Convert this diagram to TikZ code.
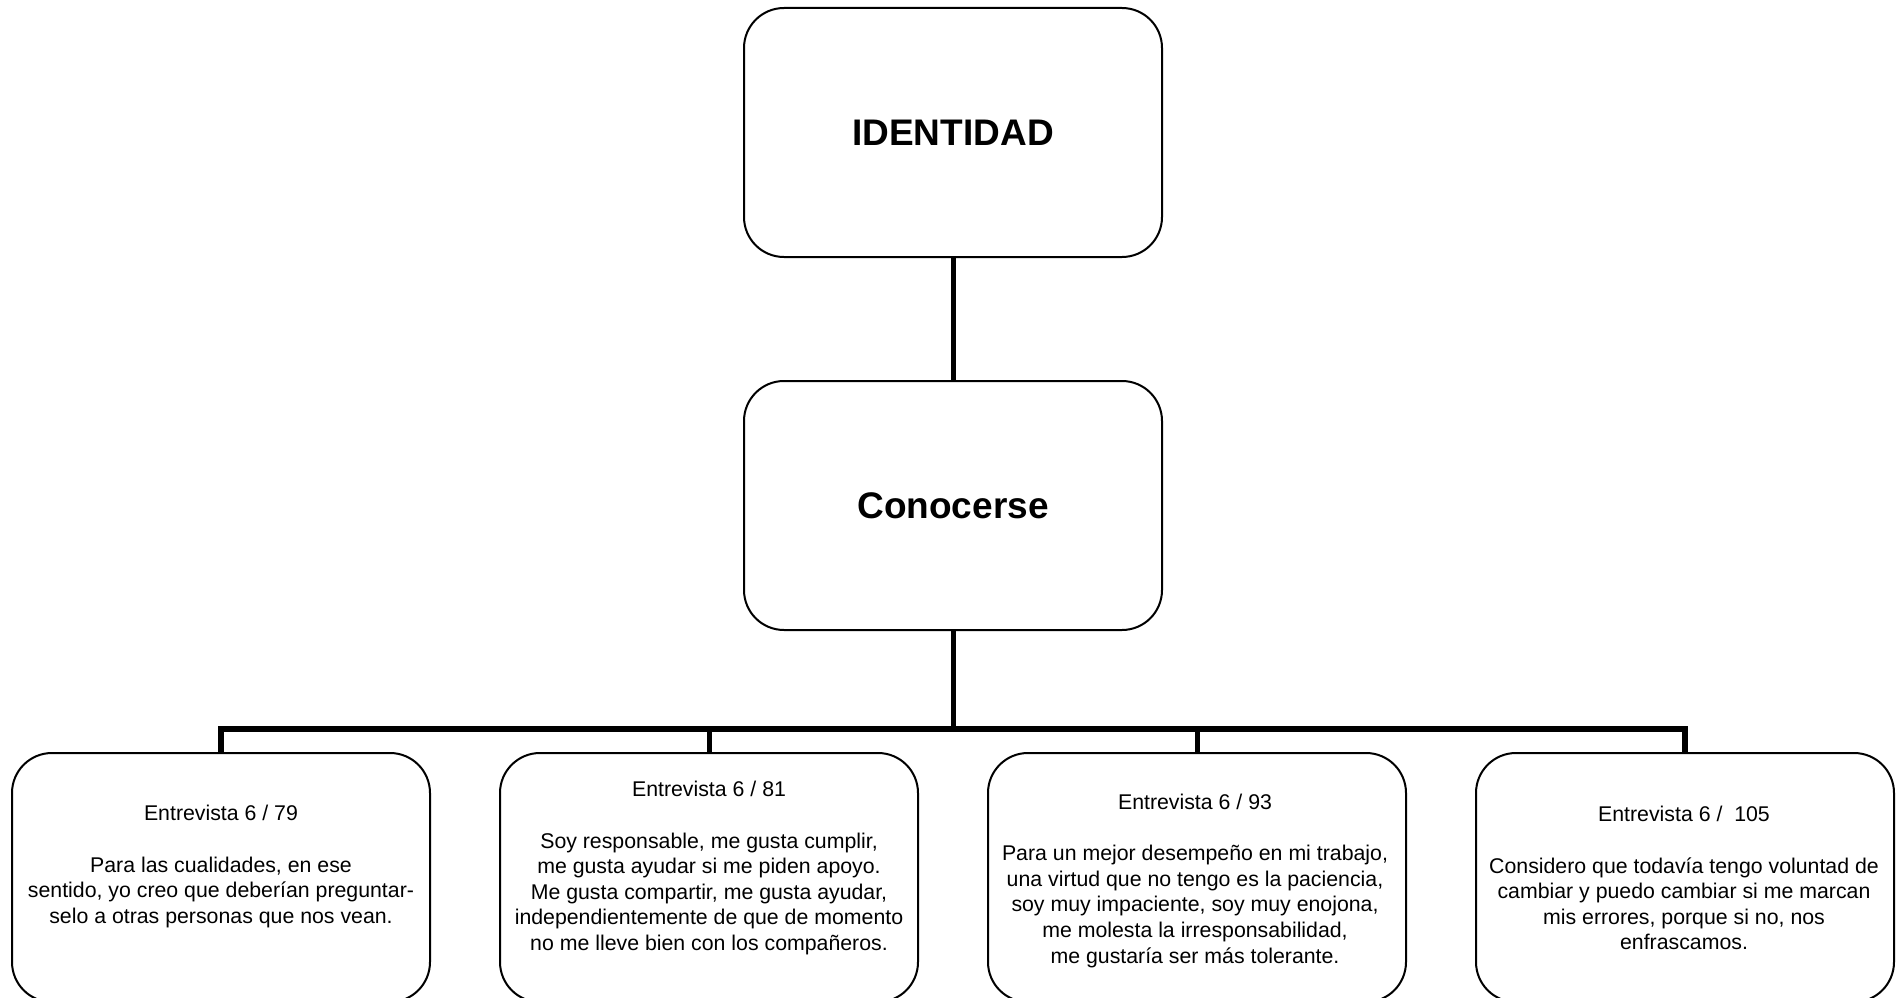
\documentclass[tikz,border=0pt]{standalone}
\usepackage{fontspec}
\setmainfont{Liberation Sans}
\begin{document}
\begin{tikzpicture}[x=1pt,y=-1pt,
  topbox/.style={draw, line width=2pt, rounded corners=40pt, minimum width=418pt, minimum height=249pt, inner sep=0pt, font=\fontsize{37}{44}\selectfont\bfseries},
  leafbox/.style={draw, line width=2pt, rounded corners=40pt, minimum width=418pt, minimum height=249pt, inner sep=0pt},
  leaftext/.style={anchor=north, inner sep=0pt, align=center, font=\fontsize{21.3}{25.6}\selectfont},
  stem/.style={line width=5pt},
  bar/.style={line width=5.5pt, line join=miter},
]
\useasboundingbox (0,0) rectangle (1904,998);
\fill[white] (0,0) rectangle (1904,998);
\node[topbox] (id) at (953,132.5) {IDENTIDAD};
\node[topbox] (co) at (953,505.5) {Conocerse};
\node[leafbox] (l1) at (221,877.5) {};
\node[leafbox] (l2) at (709,877.5) {};
\node[leafbox] (l3) at (1197,877.5) {};
\node[leafbox] (l4) at (1685,877.5) {};
\coordinate (bus) at (953,729);

\node[leaftext] (t1) at (221,805.2) {Entrevista 6 / 79\\[25.6pt]Para las cualidades, en ese\\sentido, yo creo que deberían preguntar-\\selo a otras personas que nos vean.};
\node[leaftext] (t2) at (709,781.2) {Entrevista 6 / 81\\[25.6pt]Soy responsable, me gusta cumplir,\\me gusta ayudar si me piden apoyo.\\Me gusta compartir, me gusta ayudar,\\independientemente de que de momento\\no me lleve bien con los compañeros.};
\node[leaftext] (t3) at (1195,793.8) {Entrevista 6 / 93\\[25.6pt]Para un mejor desempeño en mi trabajo,\\una virtud que no tengo es la paciencia,\\soy muy impaciente, soy muy enojona,\\me molesta la irresponsabilidad,\\me gustaría ser más tolerante.};
\node[leaftext] (t4) at (1684,806.2) {Entrevista 6 /\ \ 105\\[25.6pt]Considero que todavía tengo voluntad de\\cambiar y puedo cambiar si me marcan\\mis errores, porque si no, nos\\enfrascamos.};

\draw[stem] (id.south) -- (co.north);
\draw[stem] (co.south) -- (bus);
\draw[bar] (l1.north) -- (l1.north |- bus) -- (l4.north |- bus) -- (l4.north);
\draw[stem] (l2.north) -- (l2.north |- bus);
\draw[stem] (l3.north) -- (l3.north |- bus);
\end{tikzpicture}
\end{document}
